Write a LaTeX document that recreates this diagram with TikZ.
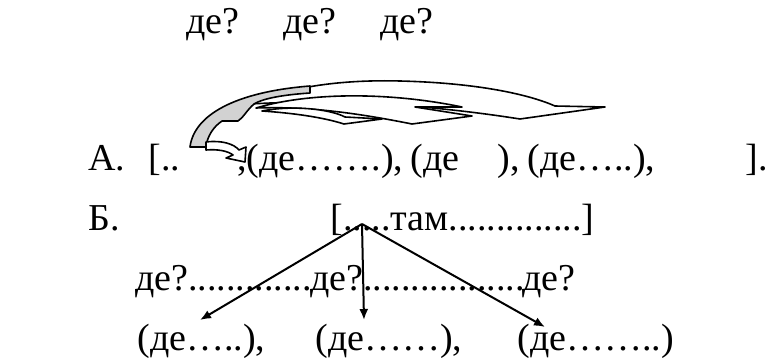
\documentclass[tikz,border=0pt]{standalone}
\usepackage{fontspec}
\setmainfont{Liberation Serif}
\usetikzlibrary{arrows.meta}

\begin{document}
\begin{tikzpicture}[x=0.5pt, y=-0.5pt,
  txt/.style={font=\fontsize{19}{22}\selectfont, inner sep=0pt, anchor=base west},
  band/.style={draw, line width=0.8pt, fill=white, line join=round},
  under/.style={draw, line width=0.8pt, fill=gray!35, line join=round},
  pick/.style={-{Latex[length=5.5pt,width=4.5pt]}, line width=1pt}
]
\useasboundingbox (0,0) rectangle (777,364);

%--- questions (top) ---
\node[txt] (q1) at (186,33) {де?};
\node[txt] (q2) at (283,33) {де?};
\node[txt] (q3) at (380,33) {де?};

%--- curved block arrows over line A ---
\draw[band] (250,104) .. controls (300,82) and (362,80) .. (400,81)
  .. controls (480,83) and (530,95) .. (555,106) -- (605,107) -- (520,119)
  .. controls (450,108) and (353,98) .. (250,104) -- cycle;
\draw[band] (256,108) .. controls (310,92) and (390,92) .. (462,107)
  -- (415,107) -- (472,116) -- (412,124)
  .. controls (362,114) and (310,106) .. (256,108) -- cycle;
\draw[band] (262,111) .. controls (292,105) and (330,109) .. (345,117)
  -- (382,119) -- (344,124)
  .. controls (322,117) and (292,113) .. (262,111) -- cycle;
\draw[under] (190,147) .. controls (194,115) and (235,92) .. (310,86)
  -- (310,93) .. controls (280,95) and (262,99) .. (254,104)
  .. controls (247,110) and (243,118) .. (238,121) -- (222,121)
  .. controls (213,127) and (207,137) .. (206,147) -- cycle;
\draw[band] (206,142) .. controls (222,140) and (234,144) .. (239,150)
  -- (246,147) -- (245,162) -- (226,158) -- (233,155)
  .. controls (228,151) and (218,149) .. (206,150) -- cycle;

%--- line A ---
\node[txt] (la) at (88,170) {А.};
\node[txt] (a0) at (148,170) {[..};
\node[txt] (a1) at (237,170) {,(де…….),};
\node[txt] (a2) at (410,170) {(де};
\node[txt] (a3) at (497,170) {),};
\node[txt] (a4) at (527,170) {(де…..),};
\node[txt] (a5) at (745,170) {].};

%--- line B ---
\node[txt] (lb) at (88,230) {Б.};
\node[txt] (br) at (330,230) {[.....там..............]};

\node[txt] (d1) at (135,290) {де?.............};
\node[txt] (d2) at (310,290) {де?.................};
\node[txt] (d3) at (522,290) {де?};

\node[txt] (b1) at (137,350) {(де…..),};
\node[txt] (b2) at (315,350) {(де……),};
\node[txt] (b3) at (517,350) {(де……..)};

\coordinate (src) at (362,224);
\coordinate (t1) at (200,320);
\coordinate (t2) at (364,320);
\coordinate (t3) at (545,327);
\draw[pick] (src) -- (t1);
\draw[pick] (src) -- (t2);
\draw[pick] (src) -- (t3);
\end{tikzpicture}
\end{document}
